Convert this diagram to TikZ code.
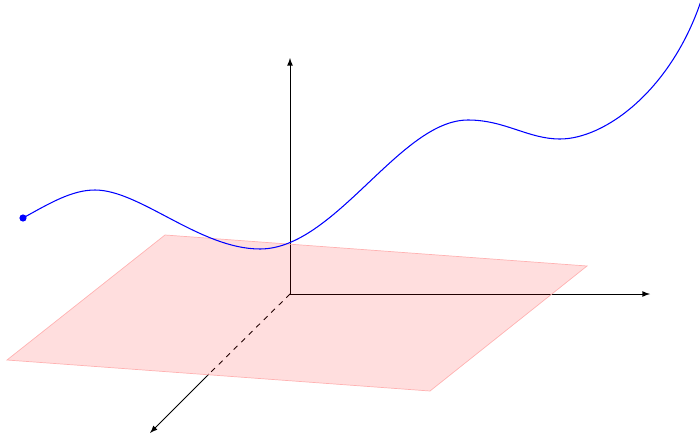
\documentclass[tikz,border=0pt]{standalone}
\usepackage{tikz}
\usetikzlibrary{arrows}

\begin{document}
\begin{tikzpicture}[
    x=.02cm, y=-.02cm,
    axis/.style={line width=.5pt, -latex},
    plane/.style={fill=red, fill opacity=.13, draw=red!30, draw opacity=1, line width=.4pt},
    path/.style={blue, line width=.6pt},
]
    \useasboundingbox (0,0) rectangle (700,436);

    %% the three axes, the one coming towards us dashed behind the plane
    \coordinate (O) at (290,294);
    \coordinate (xend) at (650,294);
    \coordinate (zend) at (290,58);
    \coordinate (ycross) at (209,374);
    \coordinate (yend) at (150,433);
    \draw[axis] (O) -- (xend);
    \draw[axis] (O) -- (zend);
    \draw[line width=.5pt, dashed] (O) -- (ycross);
    \draw[axis] (ycross) -- (yend);

    %% the plane, see-through
    \coordinate (p1) at (165,235);
    \coordinate (p2) at (587,266);
    \coordinate (p3) at (430,391);
    \coordinate (p4) at (7,360);
    \filldraw[plane] (p1) -- (p2) -- (p3) -- (p4) -- cycle;

    %% the curve, starting at a dot
    \coordinate (start) at (23,218);
    \fill[blue] (start) circle (3.6);
    \draw[path] (start) .. controls (50,203) and (72,190) .. (95,190)
        .. controls (140,190) and (200,249) .. (260,249)
        .. controls (335,249) and (400,120) .. (468,120)
        .. controls (505,120) and (528,139) .. (560,139)
        .. controls (605,139) and (672,90) .. (702,-2);
\end{tikzpicture}
\end{document}
